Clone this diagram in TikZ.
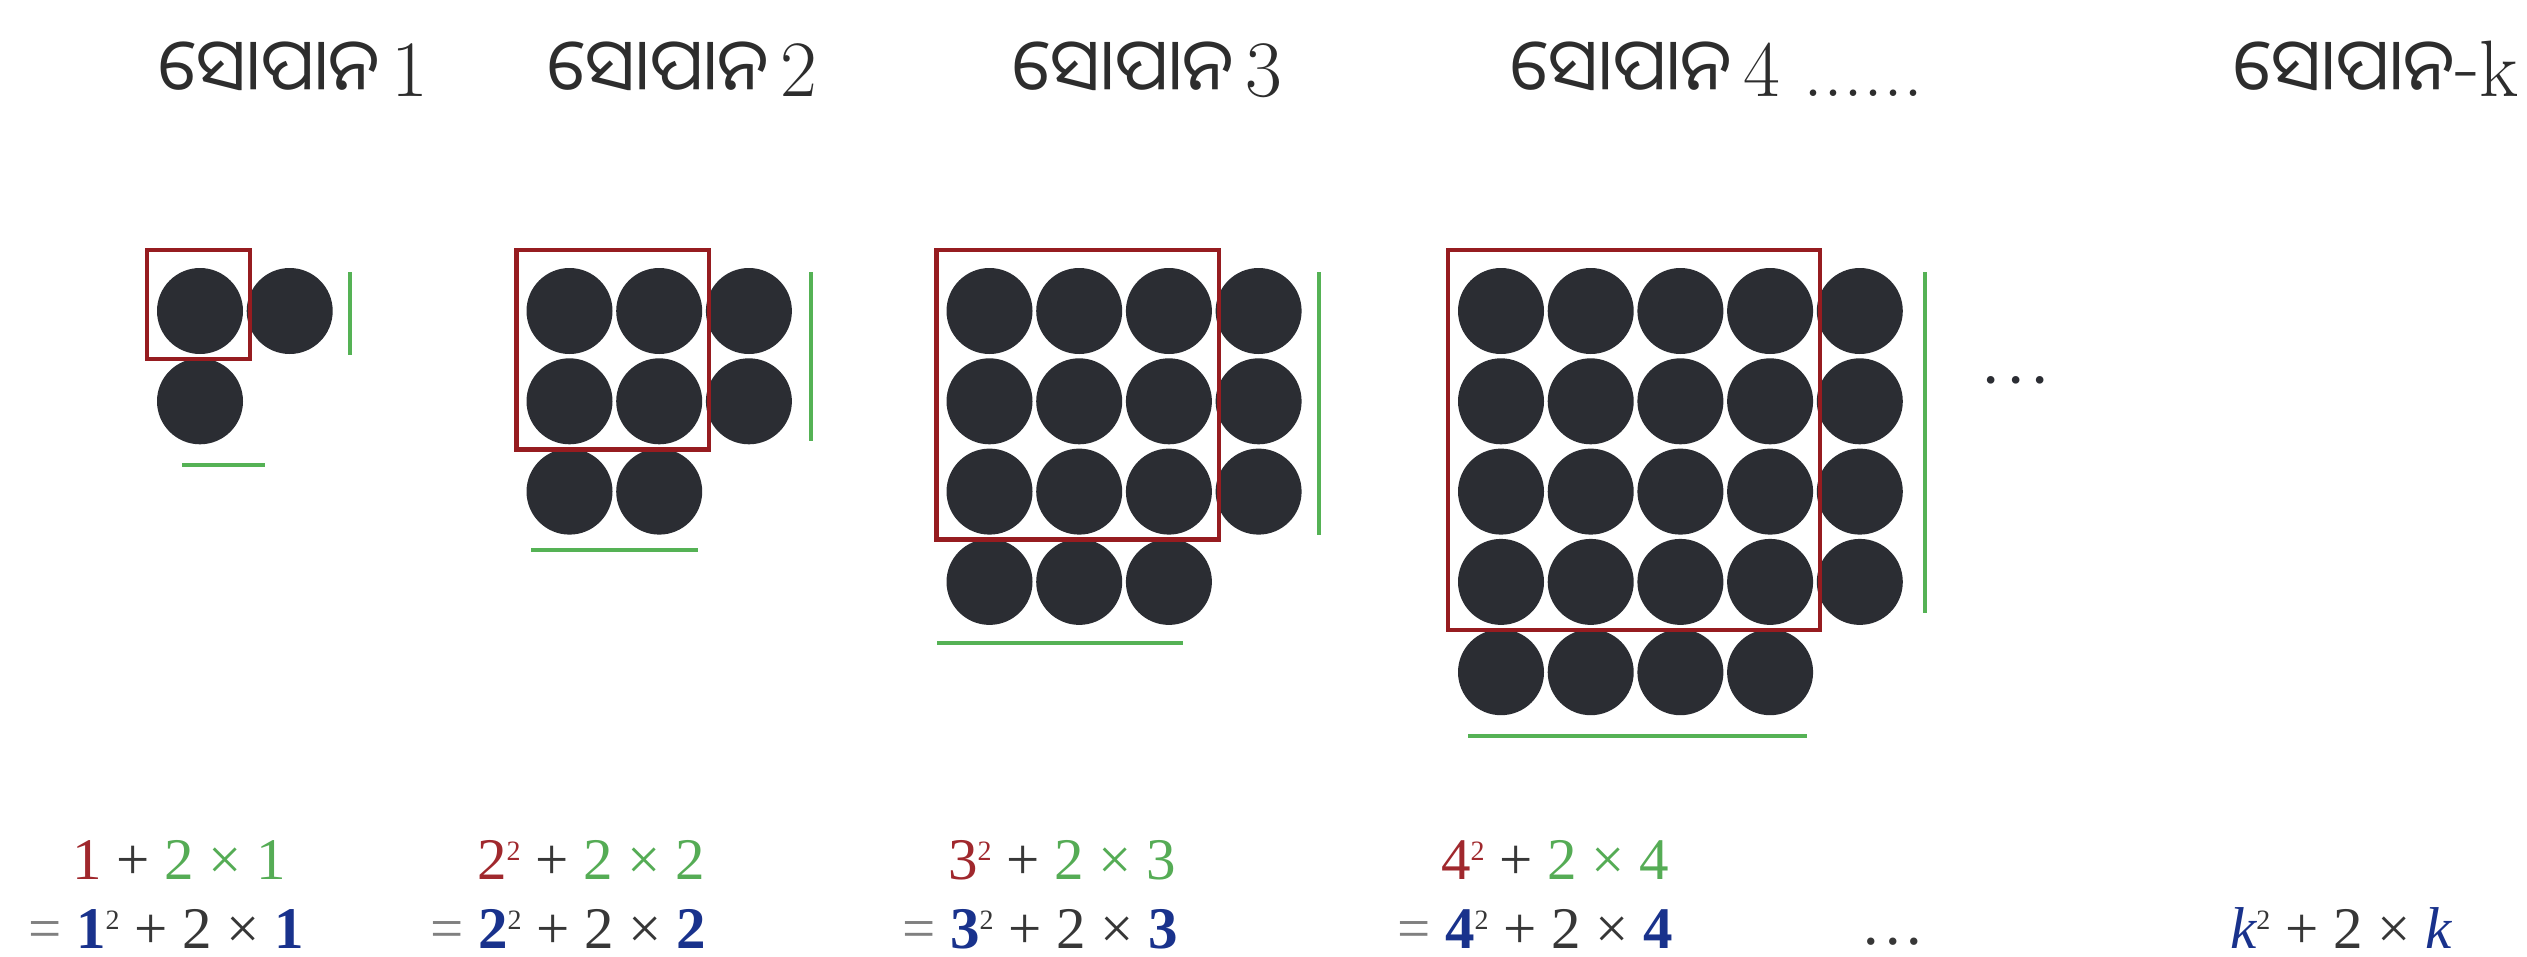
\documentclass[tikz,border=0pt]{standalone}
\usepackage{fontspec}
\newfontfamily\oriya[Script=Oriya]{Noto Sans Oriya UI}
\newfontfamily\eqf{Liberation Serif}
\definecolor{dotc}{RGB}{43,45,51}
\definecolor{boxred}{RGB}{150,28,32}
\definecolor{lgreen}{RGB}{85,178,85}
\definecolor{eqred}{RGB}{160,40,45}
\definecolor{eqgreen}{RGB}{85,172,85}
\definecolor{eqblue}{RGB}{25,50,140}
\definecolor{eqgray}{RGB}{55,55,55}
\definecolor{ttlc}{RGB}{45,45,45}
\newcommand\sqsup{\raisebox{19pt}{\fontsize{28}{28}\selectfont 2}}
\newcommand\odw{{\oriya\fontsize{72}{72}\selectfont ସୋପାନ}}
\begin{document}
\begin{tikzpicture}[x=1pt,y=-1pt,
  ttl/.style={anchor=base west, inner sep=0pt, text=ttlc, font=\fontsize{80}{80}\selectfont},
  eq/.style={anchor=base west, inner sep=0pt, text=eqgray, font=\eqf\fontsize{59}{59}\selectfont},
  gline/.style={draw=lgreen, line width=4pt},
  rbox/.style={draw=boxred, line width=4.5pt}]
\fill[white] (0,0) rectangle (2527,956);
\useasboundingbox (0,0) rectangle (2527,956);
% titles
\node[ttl] (t1) at (158,96) {\odw\hspace{11pt}1};
\node[ttl] (t2) at (547,96) {\odw\hspace{11pt}2};
\node[ttl] (t3) at (1012,96) {\odw\hspace{11pt}3};
\node[ttl] (t4) at (1510,96) {\odw\hspace{11pt}4 ......};
\node[ttl] (tk) at (2233,96) {\odw\raisebox{5pt}{-}k};
% dots grids
\foreach \k/\xo in {1/200,2/569.5,3/989.5,4/1501} {
  \foreach \i in {1,...,\k} {
    \foreach \j in {1,...,\k} {
      \fill[dotc] ({\xo+(\i-1)*89.7},{311+(\j-1)*90.3}) circle[radius=43pt];
    }
    \fill[dotc] ({\xo+\k*89.7},{311+(\i-1)*90.3}) circle[radius=43pt];
    \fill[dotc] ({\xo+(\i-1)*89.7},{311+\k*90.3}) circle[radius=43pt];
  }
  \draw[rbox] ({\xo-53},250) rectangle ({\xo+(\k-1)*89.7+50},{311+(\k-1)*90.3+48});
}
% green marker lines
\coordinate (v1a) at (350,272); \coordinate (v1b) at (350,355);
\coordinate (h1a) at (182,465); \coordinate (h1b) at (265,465);
\coordinate (v2a) at (811,272); \coordinate (v2b) at (811,441);
\coordinate (h2a) at (531,550); \coordinate (h2b) at (698,550);
\coordinate (v3a) at (1319,272); \coordinate (v3b) at (1319,535);
\coordinate (h3a) at (937,643); \coordinate (h3b) at (1183,643);
\coordinate (v4a) at (1925,272); \coordinate (v4b) at (1925,613);
\coordinate (h4a) at (1468,736); \coordinate (h4b) at (1807,736);
\draw[gline] (v1a) -- (v1b); \draw[gline] (h1a) -- (h1b);
\draw[gline] (v2a) -- (v2b); \draw[gline] (h2a) -- (h2b);
\draw[gline] (v3a) -- (v3b); \draw[gline] (h3a) -- (h3b);
\draw[gline] (v4a) -- (v4b); \draw[gline] (h4a) -- (h4b);
% middle dots
\node[anchor=center, inner sep=0pt, text=dotc, font=\eqf\fontsize{64}{64}\selectfont] (mdots) at (2016,389) {·\hspace{0.05em}·\hspace{0.05em}·};
% equations
\node[eq] (e1a) at (72,879) {{\color{eqred}1} + {\color{eqgreen}2 × 1}};
\node[eq] (e1b) at (28,948) {{\color{gray}=} {\color{eqblue}\bfseries 1}\sqsup{} + 2 × {\color{eqblue}\bfseries 1}};
\node[eq] (e2a) at (477,879) {{\color{eqred}2\sqsup} + {\color{eqgreen}2 × 2}};
\node[eq] (e2b) at (430,948) {{\color{gray}=} {\color{eqblue}\bfseries 2}\sqsup{} + 2 × {\color{eqblue}\bfseries 2}};
\node[eq] (e3a) at (948,879) {{\color{eqred}3\sqsup} + {\color{eqgreen}2 × 3}};
\node[eq] (e3b) at (902,948) {{\color{gray}=} {\color{eqblue}\bfseries 3}\sqsup{} + 2 × {\color{eqblue}\bfseries 3}};
\node[eq] (e4a) at (1441,879) {{\color{eqred}4\sqsup} + {\color{eqgreen}2 × 4}};
\node[eq] (e4b) at (1397,948) {{\color{gray}=} {\color{eqblue}\bfseries 4}\sqsup{} + 2 × {\color{eqblue}\bfseries 4}};
\node[anchor=center, inner sep=0pt, text=eqgray, font=\eqf\fontsize{62}{62}\selectfont] (bdots) at (1893,942) {.\hspace{0.1em}.\hspace{0.1em}.};
\node[eq] (ek) at (2230,948) {{\color{eqblue}\itshape k}\sqsup{} + 2 × {\color{eqblue}\itshape k}};
\end{tikzpicture}
\end{document}
